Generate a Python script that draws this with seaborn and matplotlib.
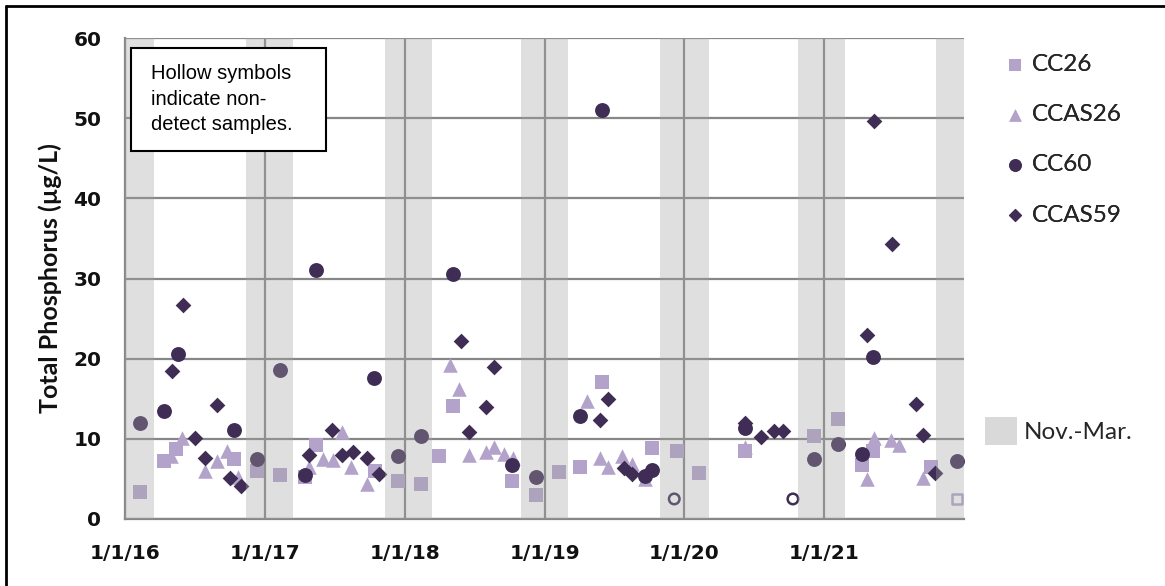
import numpy as np
import pandas as pd
import matplotlib
matplotlib.use("Agg")
import matplotlib.pyplot as plt
import matplotlib.dates as mdates
from matplotlib.patches import Patch, Rectangle
from matplotlib.lines import Line2D
import seaborn as sns

# ---------------- data ----------------
stations = ["CC26", "CCAS26", "CC60", "CCAS59"]

cc26_dates = ["2016-02-08", "2016-04-11", "2016-05-14", "2016-10-11", "2016-12-12",
              "2017-02-09", "2017-04-16", "2017-05-15", "2017-10-15", "2017-12-13",
              "2018-02-13", "2018-04-01", "2018-05-08", "2018-10-08", "2018-12-09",
              "2019-02-09", "2019-04-05", "2019-05-30", "2019-10-08", "2019-12-13",
              "2020-02-09", "2020-06-09", "2020-12-05", "2021-02-06", "2021-04-09",
              "2021-05-08", "2021-10-08", "2021-12-13"]
cc26_values = [3.4, 7.2, 8.7, 7.5, 6.0,
               5.5, 5.2, 9.2, 6.0, 4.7,
               4.4, 7.9, 14.1, 4.8, 3.0,
               5.9, 6.5, 17.1, 8.9, 8.5,
               5.7, 8.5, 10.4, 12.5, 6.7,
               8.5, 6.5, 2.5]
cc26_nondetect = [False] * 27 + [True]

ccas26_dates = ["2016-04-29", "2016-05-29", "2016-07-27", "2016-08-29", "2016-09-23",
                "2016-10-23", "2017-04-27", "2017-06-02", "2017-06-28", "2017-07-20",
                "2017-08-14", "2017-09-23", "2018-04-30", "2018-05-22", "2018-06-17",
                "2018-07-31", "2018-08-22", "2018-09-16", "2018-10-12", "2019-04-23",
                "2019-05-26", "2019-06-17", "2019-07-23", "2019-08-18", "2019-09-20",
                "2020-06-09", "2021-04-23", "2021-05-11", "2021-06-24", "2021-07-16",
                "2021-09-16"]
ccas26_values = [7.8, 10.1, 6.0, 7.2, 8.5,
                 5.2, 6.5, 7.5, 7.3, 10.8,
                 6.5, 4.4, 19.2, 16.2, 8.0,
                 8.3, 9.0, 8.1, 7.6, 14.7,
                 7.6, 6.5, 7.9, 6.9, 5.0,
                 9.0, 5.0, 10.1, 9.9, 9.2,
                 5.1]
ccas26_nondetect = [False] * 31

cc60_dates = ["2016-02-08", "2016-04-11", "2016-05-18", "2016-10-11", "2016-12-12",
              "2017-02-09", "2017-04-16", "2017-05-15", "2017-10-12", "2017-12-13",
              "2018-02-13", "2018-05-08", "2018-10-08", "2018-12-09", "2019-04-05",
              "2019-05-30", "2019-09-20", "2019-10-08", "2019-12-06", "2020-06-09",
              "2020-10-11", "2020-12-05", "2021-02-06", "2021-04-09", "2021-05-08",
              "2021-12-13"]
cc60_values = [12.0, 13.5, 20.6, 11.1, 7.5,
               18.6, 5.5, 31.0, 17.6, 7.8,
               10.3, 30.5, 6.7, 5.3, 12.8,
               51.0, 5.4, 6.1, 2.5, 11.3,
               2.5, 7.5, 9.3, 8.1, 20.2,
               7.2]
cc60_nondetect = [False] * 18 + [True, False, True] + [False] * 5

ccas59_dates = ["2016-05-04", "2016-06-01", "2016-07-01", "2016-07-27", "2016-08-29",
                "2016-10-01", "2016-10-30", "2017-04-27", "2017-06-24", "2017-07-20",
                "2017-08-18", "2017-09-23", "2017-10-26", "2018-05-27", "2018-06-17",
                "2018-07-31", "2018-08-22", "2019-05-26", "2019-06-17", "2019-07-27",
                "2019-08-18", "2020-06-09", "2020-07-19", "2020-08-22", "2020-09-16",
                "2021-04-23", "2021-05-11", "2021-06-28", "2021-08-29", "2021-09-16",
                "2021-10-16"]
ccas59_values = [18.4, 26.7, 10.1, 7.6, 14.2,
                 5.1, 4.1, 8.0, 11.1, 8.0,
                 8.3, 7.6, 5.6, 22.2, 10.9,
                 14.0, 18.9, 12.4, 15.0, 6.4,
                 5.6, 12.0, 10.2, 11.0, 11.0,
                 23.0, 49.6, 34.3, 14.4, 10.5,
                 5.8]
ccas59_nondetect = [False] * 31

band_starts = ["2015-11-15", "2016-11-11", "2017-11-09", "2018-11-01",
               "2019-10-29", "2020-10-23", "2021-10-20"]
band_ends = ["2016-03-16", "2017-03-16", "2018-03-14", "2019-03-03",
             "2020-03-05", "2021-02-23", "2022-03-15"]

xtick_dates = ["2016-01-01", "2017-01-01", "2018-01-01", "2019-01-01",
               "2020-01-01", "2021-01-01"]
xtick_labels = ["1/1/16", "1/1/17", "1/1/18", "1/1/19", "1/1/20", "1/1/21"]
yticks = [0, 10, 20, 30, 40, 50, 60]

# ---------------- frame ----------------
series = {
    "CC26": (cc26_dates, cc26_values, cc26_nondetect),
    "CCAS26": (ccas26_dates, ccas26_values, ccas26_nondetect),
    "CC60": (cc60_dates, cc60_values, cc60_nondetect),
    "CCAS59": (ccas59_dates, ccas59_values, ccas59_nondetect),
}
frames = []
for name, (d, v, nd) in series.items():
    frames.append(pd.DataFrame({"station": name, "date": pd.to_datetime(d),
                                "value": v, "nd": nd}))
df = pd.concat(frames, ignore_index=True)

LIGHT = "#b3a3cb"
DARK = "#3f2d55"
styles = {
    "CC26": ("s", LIGHT, 100),
    "CCAS26": ("^", LIGHT, 110),
    "CC60": ("o", DARK, 115),
    "CCAS59": ("D", DARK, 64),
}

sns.set_style("white")
plt.rcParams["font.family"] = ["DejaVu Sans"]

fig = plt.figure(figsize=(11.65, 5.86), dpi=100)
L, R = 125 / 1165, 964 / 1165
B, T = 1 - 519 / 586, 1 - 38 / 586
ax = fig.add_axes([L, B, R - L, T - B])

for name in stations:
    m, c, s = styles[name]
    sub = df[(df.station == name) & (~df.nd)]
    sns.scatterplot(data=sub, x="date", y="value", marker=m, s=s, color=c,
                    edgecolor=c, linewidth=0, ax=ax, label=name, zorder=2)
    ndsub = df[(df.station == name) & (df.nd)]
    if len(ndsub):
        sns.scatterplot(data=ndsub, x="date", y="value", marker=m, s=s * 0.5,
                        color=c, facecolor="none", edgecolor=c, linewidth=1.8,
                        ax=ax, legend=False, zorder=2)

handles, labels = ax.get_legend_handles_labels()
if ax.get_legend() is not None:
    ax.get_legend().remove()

for a, b in zip(band_starts, band_ends):
    ax.axvspan(pd.Timestamp(a), pd.Timestamp(b), color="#a3a3a3", alpha=0.34,
               lw=0, zorder=3)

ax.set_xlim(pd.Timestamp("2016-01-01"), pd.Timestamp("2022-01-01"))
ax.set_ylim(0, 60)
ax.set_xticks([mdates.date2num(pd.Timestamp(t)) for t in xtick_dates])
ax.set_xticklabels(xtick_labels, fontweight="bold", fontsize=14.5, color="#111111")
ax.set_yticks(yticks)
ax.set_yticklabels([str(v) for v in yticks], fontweight="bold", fontsize=14.5,
                   color="#111111")
ax.set_axisbelow(True)
ax.grid(True, color="#878787", lw=1.6)
for sp in ["top", "right"]:
    ax.spines[sp].set_visible(False)
for sp in ["left", "bottom"]:
    ax.spines[sp].set_color("#878787")
    ax.spines[sp].set_linewidth(1.6)
ax.tick_params(axis="both", direction="out", length=7, width=1.6,
               color="#878787")
ax.tick_params(axis="y", pad=10)
ax.tick_params(axis="x", pad=11)
ax.set_xlabel("")
ax.set_ylabel("Total Phosphorus (µg/L)", fontfamily="Lato", fontweight="bold",
              fontsize=18, labelpad=8, color="#111111")

# note box
ax.add_patch(Rectangle((6 / 839, 1 - 113 / 481), 195 / 839, 103 / 481,
                       transform=ax.transAxes, fc="white", ec="black", lw=1.5,
                       zorder=5))
ax.text(26 / 839, 1 - 26 / 481, "Hollow symbols\nindicate non-\ndetect samples.",
        transform=ax.transAxes, ha="left", va="top", fontfamily="Liberation Sans",
        fontsize=14.5, linespacing=1.45, zorder=6, color="black")

# legends
leg1 = fig.legend(handles, labels, loc="upper left",
                  bbox_to_anchor=(1003 / 1165, 1 - 54 / 586), frameon=False,
                  prop={"family": "Lato", "size": 17.5},
                  markerscale=0.85, labelspacing=1.2, handletextpad=0.2,
                  handlelength=1.0, borderpad=0, borderaxespad=0)
leg2 = fig.legend([Patch(fc="#d9d9d9", ec="none")], ["Nov.-Mar."], loc="upper left",
                  bbox_to_anchor=(985 / 1165, 1 - 417 / 586), frameon=False,
                  prop={"family": "Lato", "size": 17.5}, handlelength=1.3,
                  handleheight=1.4, handletextpad=0.3, borderpad=0,
                  borderaxespad=0)
fig.add_artist(leg1)

# outer border
fig.add_artist(Line2D([6 / 1165, 6 / 1165], [0, 1 - 6 / 586],
                      transform=fig.transFigure, color="black", lw=2))
fig.add_artist(Line2D([6 / 1165, 1], [1 - 6 / 586, 1 - 6 / 586],
                      transform=fig.transFigure, color="black", lw=2))

fig.savefig("out.png", dpi=100)
